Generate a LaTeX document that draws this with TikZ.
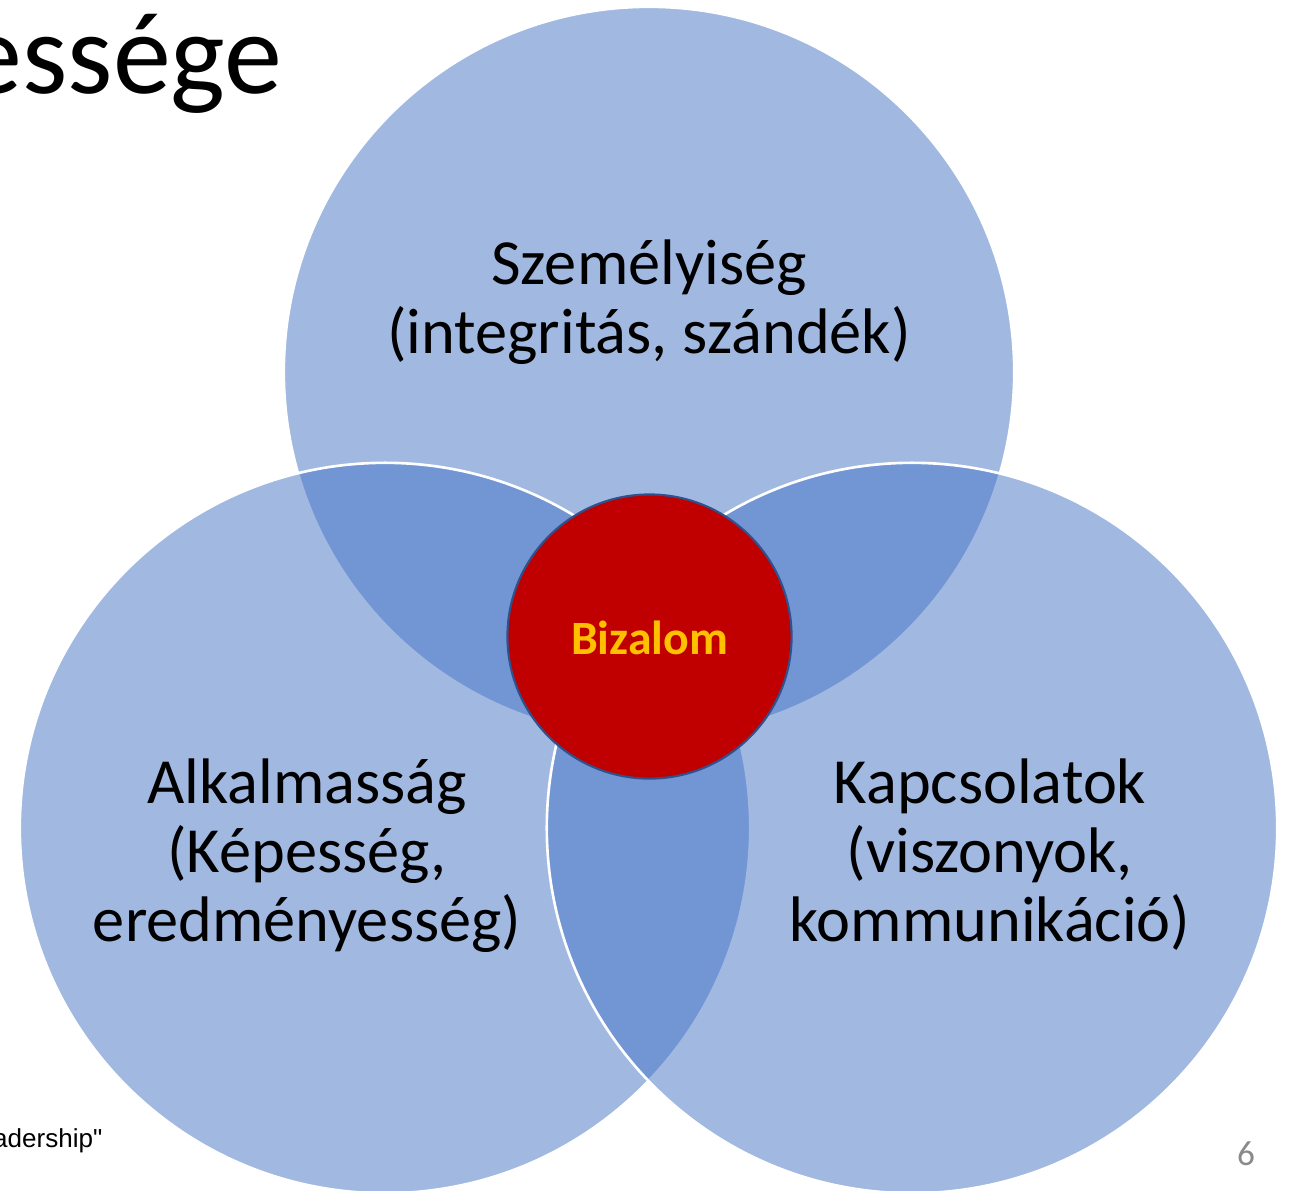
\documentclass[tikz,border=0pt]{standalone}
\usepackage{fontspec}
\setmainfont{Carlito}
\newfontfamily\arialfont{Liberation Sans}
\definecolor{vennblue}{HTML}{4472C4}
\definecolor{trustred}{HTML}{C00000}
\definecolor{trustedge}{HTML}{2F528F}
\definecolor{trustgold}{HTML}{FFC000}
\definecolor{pagegray}{HTML}{8A8A8A}
\tikzset{
  vennset/.style={fill=vennblue, fill opacity=0.5, draw=white, draw opacity=1, line width=0.75pt},
  setlabel/.style={align=center, anchor=base, inner sep=0pt, font=\fontsize{18.3}{19.5}\selectfont},
  trust/.style={circle, minimum size=2.84cm, inner sep=0pt, fill=trustred, draw=trustedge,
    line width=0.6pt}
}
\begin{document}
\begin{tikzpicture}[x=0.01cm, y=-0.01cm]
    \useasboundingbox (0,0) rectangle (1289,1190);
    \clip (0,0) rectangle (1289,1190);

    % draw the sets
    \filldraw[vennset] (649,372) circle (3.65cm);
    \filldraw[vennset] (385,828) circle (3.65cm);
    \filldraw[vennset] (912,828) circle (3.65cm);

    % the trust in the middle
    \node[trust] (bizalom) at (649.5,636.5) {};
    \node[anchor=base, inner sep=0pt, text=trustgold, font=\fontsize{13.6}{16}\selectfont\bfseries]
        (bizalomtext) at (649.5,654) {Bizalom};

    % the texts of the sets (anchor=base sits on the last line)
    \node[setlabel] (szemelyiseg) at (649,353) {Személyiség\\(integritás, szándék)};
    \node[setlabel] (alkalmassag) at (307,941) {Alkalmasság\\(Képesség,\\eredményesség)};
    \node[setlabel] (kapcsolatok) at (990,941) {Kapcsolatok\\(viszonyok,\\kommunikáció)};

    % slide leftovers
    \node[anchor=base east, inner sep=0pt, font=\fontsize{33}{40}\selectfont] (title) at (283,93) {essége};
    \node[anchor=base east, inner sep=0pt, font=\arialfont\fontsize{7.4}{9}\selectfont] (source) at (103,1147) {adership"};
    \node[anchor=base, inner sep=0pt, text=pagegray, font=\fontsize{10}{12}\selectfont] (pagenum) at (1246,1165) {6};
\end{tikzpicture}
\end{document}
